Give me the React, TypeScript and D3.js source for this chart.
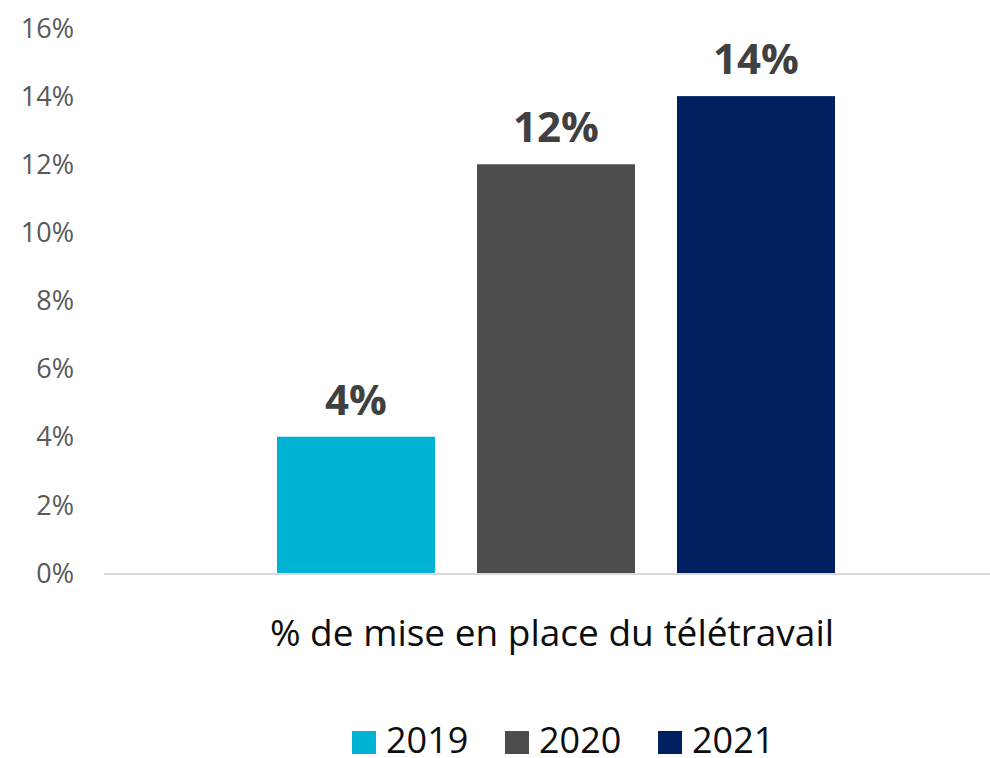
import React from "react";
import * as d3 from "d3";

const categories = ["% de mise en place du télétravail"];
const years = ["2019", "2020", "2021"];
const values2019 = [4];
const values2020 = [12];
const values2021 = [14];
const yTicks = [0, 2, 4, 6, 8, 10, 12, 14, 16];
const colors = ["#00B2D3", "#4D4D4D", "#002060"];

const W = 990;
const H = 758;
const FONT = "'Open Sans', 'Noto Sans', sans-serif";

export default function App() {
  const series = [values2019, values2020, values2021];
  const y = d3.scaleLinear().domain([0, 16]).range([573, 28]);
  const x0 = d3.scaleBand<string>().domain(categories).range([104, 1008]).paddingOuter(0).paddingInner(0);
  const groupW = 600;
  const x1 = d3.scaleBand<string>().domain(years).range([0, groupW]).paddingInner(0.21).paddingOuter(0.105);
  const groupStart = (c: string) => (x0(c) ?? 0) + x0.bandwidth() / 2 - groupW / 2;

  const legendX = [352, 505, 658];

  return (
    <svg width={W} height={H} style={{ position: "absolute", left: 0, top: 0, display: "block" }}>
      <rect width={W} height={H} fill="#fff" />
      {yTicks.map((t) => (
        <text key={t} x={74} y={y(t)} dy="0.36em" textAnchor="end" fontFamily={FONT} fontSize={27} fill="#595959">
          {t}%
        </text>
      ))}
      {categories.map((c, ci) => (
        <g key={c}>
          {years.map((yr, si) => {
            const v = series[si][ci];
            const bx = groupStart(c) + (x1(yr) ?? 0);
            return (
              <g key={yr}>
                <rect x={bx} y={y(v)} width={x1.bandwidth()} height={y(0) - y(v)} fill={colors[si]} />
                <text
                  x={bx + x1.bandwidth() / 2}
                  y={y(v) - 22}
                  textAnchor="middle"
                  fontFamily={FONT}
                  fontWeight="bold"
                  fontSize={42}
                  fill="#404040"
                >
                  {v}%
                </text>
              </g>
            );
          })}
          <text
            x={(x0(c) ?? 0) + x0.bandwidth() / 2 - 4}
            y={646}
            textAnchor="middle"
            fontFamily={FONT}
            fontSize={37}
            fill="#0D0D0D"
          >
            {c}
          </text>
        </g>
      ))}
      <line x1={104} x2={1008} y1={y(0) + 1} y2={y(0) + 1} stroke="#D9D9D9" strokeWidth={2} />
      {years.map((yr, i) => (
        <g key={yr}>
          <rect x={legendX[i]} y={731} width={24} height={23} fill={colors[i]} />
          <text x={legendX[i] + 34} y={753} fontFamily={FONT} fontSize={36} fill="#0D0D0D">
            {yr}
          </text>
        </g>
      ))}
    </svg>
  );
}
